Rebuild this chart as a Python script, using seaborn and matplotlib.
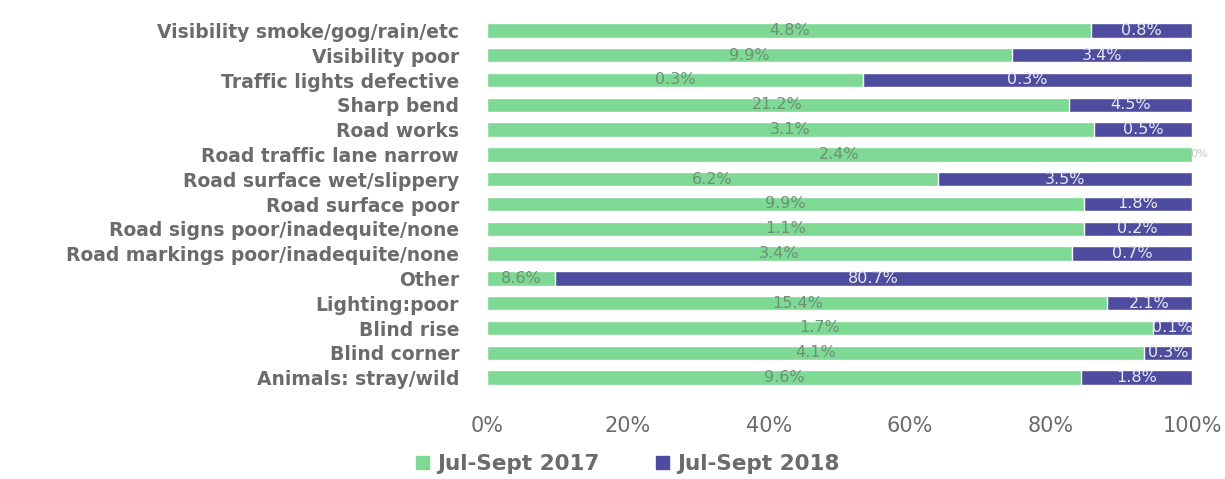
import matplotlib
matplotlib.use("Agg")
import matplotlib.pyplot as plt
import seaborn as sns
import pandas as pd
import numpy as np
from matplotlib.patches import Patch

categories = [
    "Visibility smoke/gog/rain/etc",
    "Visibility poor",
    "Traffic lights defective",
    "Sharp bend",
    "Road works",
    "Road traffic lane narrow",
    "Road surface wet/slippery",
    "Road surface poor",
    "Road signs poor/inadequite/none",
    "Road markings poor/inadequite/none",
    "Other",
    "Lighting:poor",
    "Blind rise",
    "Blind corner",
    "Animals: stray/wild",
]
jul_sept_2017 = [4.8, 9.9, 0.32, 21.2, 3.1, 2.4, 6.2, 9.9, 1.1, 3.4, 8.6, 15.4, 1.7, 4.1, 9.6]
jul_sept_2018 = [0.8, 3.4, 0.28, 4.5, 0.5, 0.0, 3.5, 1.8, 0.2, 0.7, 80.7, 2.1, 0.1, 0.3, 1.8]
x_ticks = [0, 20, 40, 60, 80, 100]
series_names = ["Jul-Sept 2017", "Jul-Sept 2018"]

GREEN = "#7dd994"
PURPLE = "#4e4c9e"
GRAY = "#6b6b6b"

df = pd.DataFrame({"cat": categories, "a": jul_sept_2017, "b": jul_sept_2018})
df["total"] = df["a"] + df["b"]
df["share_a"] = df["a"] / df["total"] * 100
df["full"] = 100.0

sns.set_theme(style="white")
plt.rcParams["font.family"] = ["DejaVu Sans"]

fig = plt.figure(figsize=(12.25, 4.79), dpi=100)
ax = fig.add_axes([487 / 1225, 1 - 390 / 479, (1192 - 487) / 1225, (390 - 18) / 479])

sns.barplot(data=df, y="cat", x="full", color=PURPLE, orient="h", ax=ax,
            width=0.58, saturation=1, order=categories)
sns.barplot(data=df, y="cat", x="share_a", color=GREEN, orient="h", ax=ax,
            width=0.58, saturation=1, order=categories)

def fmt(v):
    return "0%" if v == 0 else f"{v:.1f}%"

for i, row in df.iterrows():
    sa = row["share_a"]
    ax.text(sa / 2, i, fmt(row["a"]), ha="center", va="center",
            fontsize=11.5, color="#6f8f77")
    if row["b"] > 0:
        ax.text(sa + (100 - sa) / 2, i, fmt(row["b"]), ha="center", va="center",
                fontsize=11.5, color="#e8e8f4")
    else:
        ax.text(101.0, i, fmt(row["b"]), ha="center", va="center",
                fontsize=8, color="#b8c8bc")

ax.set_xlim(0, 100)
ax.set_ylim(len(categories) - 0.5, -0.5)
ax.set_xticks(x_ticks)
ax.set_xticklabels([f"{t}%" for t in x_ticks], fontsize=15, color=GRAY)
ax.tick_params(axis="x", pad=19, length=0)
ax.tick_params(axis="y", pad=20, length=0)
ax.set_yticklabels(categories, fontsize=13.5, color=GRAY, fontweight="bold")
ax.set_xlabel("")
ax.set_ylabel("")
sns.despine(ax=ax, left=True, bottom=True)

handles = [Patch(color=GREEN, label=series_names[0]), Patch(color=PURPLE, label=series_names[1])]
fig.legend(handles=handles, loc="center", bbox_to_anchor=(628 / 1225, 1 - 464 / 479),
           ncol=2, frameon=False, handlelength=0.6, handleheight=0.6,
           handletextpad=0.4, columnspacing=2.6, labelcolor=GRAY,
           prop={"weight": "bold", "size": 15.5})

fig.savefig("out.png", dpi=100)
